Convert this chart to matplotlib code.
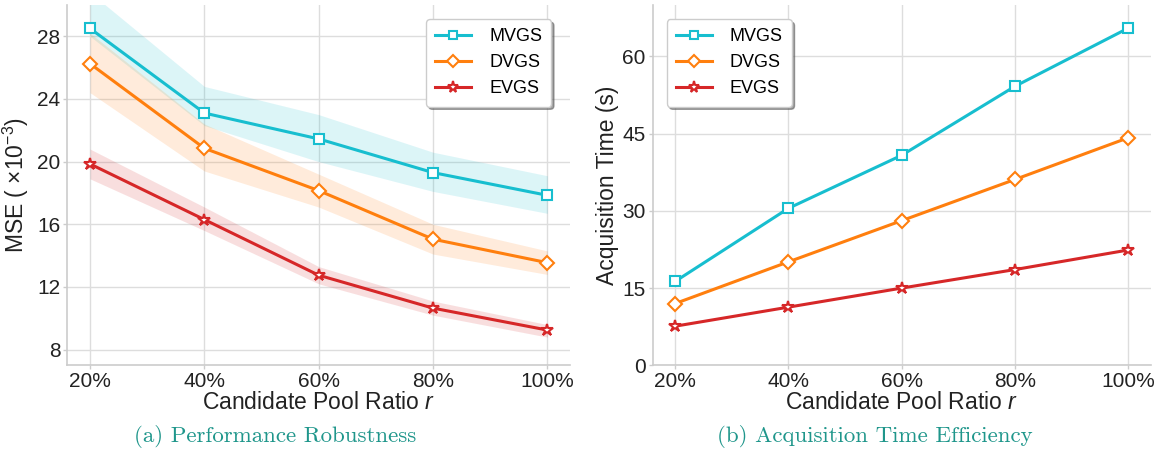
import numpy as np
import matplotlib.pyplot as plt

ratios = ["20%", "40%", "60%", "80%", "100%"]
methods = ["MVGS", "DVGS", "EVGS"]
colors = ["#17becf", "#ff7f0e", "#d62728"]
markers = ["s", "D", "*"]

# (a) MSE x1e-3, with shaded band bounds
mse_mean = {
    "MVGS": [28.5, 23.1, 21.45, 19.3, 17.85],
    "DVGS": [26.25, 20.85, 18.15, 15.05, 13.55],
    "EVGS": [19.85, 16.3, 12.75, 10.65, 9.25],
}
mse_low = {
    "MVGS": [28.0, 22.3, 20.0, 18.1, 16.7],
    "DVGS": [24.4, 19.4, 17.1, 14.1, 12.8],
    "EVGS": [18.9, 15.6, 12.2, 10.2, 8.8],
}
mse_high = {
    "MVGS": [30.8, 24.8, 23.0, 20.6, 19.1],
    "DVGS": [28.2, 22.4, 19.2, 16.0, 14.3],
    "EVGS": [20.8, 17.1, 13.3, 11.1, 9.6],
}

# (b) acquisition time in seconds
acq_time = {
    "MVGS": [16.3, 30.5, 40.8, 54.2, 65.5],
    "DVGS": [12.0, 20.1, 28.1, 36.1, 44.2],
    "EVGS": [7.6, 11.3, 15.0, 18.6, 22.4],
}

plt.rcParams["font.family"] = ["Liberation Sans", "DejaVu Sans"]
plt.rcParams["mathtext.fontset"] = "custom"
plt.rcParams["mathtext.rm"] = "Liberation Sans"
plt.rcParams["mathtext.it"] = "Liberation Sans:italic"

fig = plt.figure(figsize=(11.59, 4.51), dpi=100)
ax1 = fig.add_axes([0.058, 0.19, 0.434, 0.799])
ax2 = fig.add_axes([0.563, 0.19, 0.430, 0.799])

x = np.arange(len(ratios))
text_color = "#222222"


def style_axes(ax):
    ax.set_facecolor("white")
    ax.grid(True, color="#dddddd", linewidth=1.0)
    ax.set_axisbelow(True)
    for side in ["top", "right"]:
        ax.spines[side].set_visible(False)
    for side in ["left", "bottom"]:
        ax.spines[side].set_color("#cccccc")
        ax.spines[side].set_linewidth(1.2)
    ax.tick_params(axis="both", labelsize=15, colors="#cccccc", labelcolor=text_color,
                   length=3, width=1, pad=2)
    ax.set_xticks(x)
    ax.set_xticklabels(ratios)
    ax.set_xlim(-0.2, 4.2)
    ax.set_xlabel("Candidate Pool Ratio $r$", fontsize=16.5, color=text_color, labelpad=0)


def draw_line(ax, m, c, mk, vals):
    ax.plot(x, vals, color=c, marker=mk, markersize=7 if mk != "*" else 9,
            markerfacecolor="white", markeredgecolor=c, markeredgewidth=1.5,
            linewidth=2.2, label=m)


for m, c, mk in zip(methods, colors, markers):
    ax1.fill_between(x, mse_low[m], mse_high[m], color=c, alpha=0.15, linewidth=0)
    draw_line(ax1, m, c, mk, mse_mean[m])
style_axes(ax1)
ax1.set_ylim(7.0, 30.0)
ax1.set_yticks([8, 12, 16, 20, 24, 28])
ax1.set_ylabel(r"MSE ( $\times$10$^{-3}$)", fontsize=16.5, color=text_color, labelpad=4)
leg1 = ax1.legend(loc="upper right", fontsize=13, frameon=True, shadow=True, fancybox=True,
                  borderpad=0.5, handlelength=2.0, labelspacing=0.5, handletextpad=1.0,
                  markerscale=0.9, bbox_to_anchor=(0.98, 0.985))
leg1.get_frame().set_edgecolor("#cccccc")

for m, c, mk in zip(methods, colors, markers):
    draw_line(ax2, m, c, mk, acq_time[m])
style_axes(ax2)
ax2.set_ylim(0, 70)
ax2.set_yticks([0, 15, 30, 45, 60])
ax2.set_ylabel("Acquisition Time (s)", fontsize=16.5, color=text_color, labelpad=2)
leg2 = ax2.legend(loc="upper left", fontsize=13, frameon=True, shadow=True, fancybox=True,
                  borderpad=0.5, handlelength=2.0, labelspacing=0.5, handletextpad=1.0,
                  markerscale=0.9, bbox_to_anchor=(0.01, 0.985))
leg2.get_frame().set_edgecolor("#cccccc")

cap_color = "#1f968b"
fig.text(0.237, 0.032, "(a) Performance Robustness", family=["cmr10", "DejaVu Serif"],
         fontsize=16.5, color=cap_color, ha="center", va="center")
fig.text(0.755, 0.032, "(b) Acquisition Time Efficiency", family=["cmr10", "DejaVu Serif"],
         fontsize=16.5, color=cap_color, ha="center", va="center")

fig.savefig("out.png", dpi=100)
